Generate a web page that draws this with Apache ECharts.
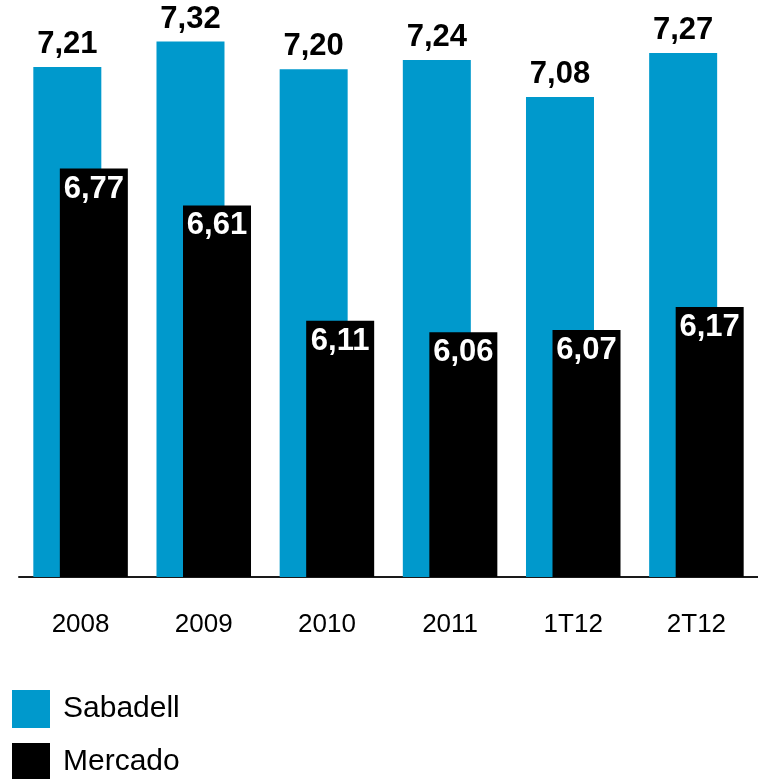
<!DOCTYPE html>
<html>
<head>
<meta charset="utf-8">
<script src="https://cdn.jsdelivr.net/npm/echarts@6/dist/echarts.min.js"></script>
<style>
html,body{margin:0;padding:0;background:#fff;}
#chart{width:758px;height:779px;}
</style>
</head>
<body>
<div id="chart"></div>
<script>
var categories = ['2008', '2009', '2010', '2011', '1T12', '2T12'];
var sabadell = [7.21, 7.32, 7.20, 7.24, 7.08, 7.27];
var mercado = [6.77, 6.61, 6.11, 6.06, 6.07, 6.17];
var seriesNames = ['Sabadell', 'Mercado'];

var fmt = function (p) { return p.value.toFixed(2).replace('.', ','); };
var chart = echarts.init(document.getElementById('chart'));
chart.setOption({
  animation: false,
  grid: { left: 19, right: -10, top: -3, bottom: 202 },
  legend: {
    orient: 'vertical', left: 12, top: 690, height: 140, padding: 0,
    itemWidth: 38, itemHeight: 38, itemGap: 15,
    icon: 'rect',
    textStyle: { fontFamily: 'Liberation Sans, Arial, sans-serif', fontSize: 30, color: '#000', padding: [0, 0, 0, 8] },
    data: seriesNames
  },
  xAxis: {
    type: 'category', data: categories,
    axisLine: { lineStyle: { color: '#1a1a1a', width: 2 } },
    axisTick: { show: false },
    axisLabel: { fontFamily: 'Liberation Sans, Arial, sans-serif', fontSize: 26, color: '#000', margin: 35 }
  },
  yAxis: { type: 'value', min: 5, max: 7.5, show: false, splitLine: { show: false } },
  series: [
    {
      name: seriesNames[0], type: 'bar', data: sabadell, barWidth: 68, barGap: '-61%',
      itemStyle: { color: '#0099cc' },
      label: { show: true, position: 'top', distance: 7, formatter: fmt,
        fontFamily: 'Liberation Sans, Arial, sans-serif', fontSize: 31, fontWeight: 'bold', color: '#000' }
    },
    {
      name: seriesNames[1], type: 'bar', data: mercado, barWidth: 68,
      itemStyle: { color: '#000' },
      label: { show: true, position: 'insideTop', distance: 5, formatter: fmt,
        fontFamily: 'Liberation Sans, Arial, sans-serif', fontSize: 31, fontWeight: 'bold', color: '#fff' }
    }
  ]
});
</script>
</body>
</html>
